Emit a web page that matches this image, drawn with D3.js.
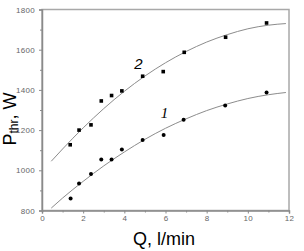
<!DOCTYPE html>
<meta charset='utf-8'>
<head>
<script src='https://d3js.org/d3.v7.min.js'></script>
<style>
  body{ margin: 0; background: #fff; }
  svg{ display: block; font-family: 'Liberation Sans', Arial, sans-serif; }
</style>
</head>
<body>
<svg id="chart"></svg>
<script>

  // measured points, curve 1 (circles) and curve 2 (squares)
  var q1 = [1.39, 1.8, 2.38, 2.88, 3.38, 3.88, 4.89, 5.91, 6.88, 8.9, 10.91];
  var p1 = [860, 934, 981, 1054, 1054, 1103, 1151, 1176, 1251, 1322, 1387];
  var q2 = [1.37, 1.8, 2.38, 2.88, 3.38, 3.88, 4.89, 5.89, 6.91, 8.92, 10.91];
  var p2 = [1127, 1200, 1226, 1345, 1372, 1395, 1468, 1491, 1587, 1662, 1733];

  // fit lines
  var fitQ = [0.45, 1, 2, 3, 4, 5, 6, 7, 8, 9, 10, 11, 11.85];
  var fit1 = [812, 862, 945, 1022, 1091, 1154, 1209, 1256, 1297, 1330, 1357, 1376, 1387];
  var fit2 = [1045, 1106, 1211, 1307, 1393, 1469, 1535, 1591, 1638, 1675, 1704, 1722, 1730];

  var xTicks = [0, 2, 4, 6, 8, 10, 12];
  var yTicks = [800, 1000, 1200, 1400, 1600, 1800];

  var width = 304, height = 251;
  var margin = {top: 9.5, right: 15, bottom: 40.5, left: 42};

  var svg = d3.select('#chart')
      .attr('width', width)
      .attr('height', height);

  var x = d3.scaleLinear().domain([0, 12]).range([margin.left, width - margin.right]);
  var y = d3.scaleLinear().domain([800, 1800]).range([height - margin.bottom, margin.top]);

  var axisCol = '#8a8a8a';

  // frame
  svg.append('rect')
    .attr('x', x(0)).attr('y', y(1800))
    .attr('width', x(12) - x(0)).attr('height', y(800) - y(1800))
    .attr('fill', 'none').attr('stroke', '#a8a8a8').attr('stroke-width', 1.5);

  // x axis
  svg.append('g')
    .attr('transform', 'translate(0,' + y(800) + ')')
    .call(d3.axisBottom(x).tickValues(xTicks).tickSize(3).tickPadding(2).tickFormat(d3.format('d')));
  svg.append('g')
    .attr('transform', 'translate(0,' + y(800) + ')')
    .call(d3.axisBottom(x).tickValues(d3.range(1, 12, 2)).tickSize(2).tickFormat(''))
    .call(function(g) { g.select('.domain').remove(); });

  // y axis
  svg.append('g')
    .attr('transform', 'translate(' + x(0) + ',0)')
    .call(d3.axisLeft(y).tickValues(yTicks).tickSize(3).tickPadding(4).tickFormat(d3.format('d')));
  svg.append('g')
    .attr('transform', 'translate(' + x(0) + ',0)')
    .call(d3.axisLeft(y).tickValues(d3.range(900, 1800, 200)).tickSize(2).tickFormat(''))
    .call(function(g) { g.select('.domain').remove(); });

  svg.selectAll('.domain').attr('stroke', axisCol).attr('stroke-width', 1.5);
  svg.selectAll('.tick line').attr('stroke', axisCol);
  svg.selectAll('.tick text')
    .attr('fill', '#666')
    .style('font-size', '8px')
    .style('letter-spacing', '0.3px');

  // fit lines
  var line = d3.line()
    .x(function(d) { return x(d[0]); })
    .y(function(d) { return y(d[1]); })
    .curve(d3.curveMonotoneX);

  [fit1, fit2].forEach(function(f) {
    svg.append('path')
      .datum(fitQ.map(function(q, i) { return [q, f[i]]; }))
      .attr('d', line)
      .attr('fill', 'none')
      .attr('stroke', '#8c8c8c')
      .attr('stroke-width', 1);
  });

  // points
  svg.selectAll('circle.p1')
    .data(q1.map(function(q, i) { return [q, p1[i]]; }))
    .enter().append('circle')
      .attr('class', 'p1')
      .attr('cx', function(d) { return x(d[0]); })
      .attr('cy', function(d) { return y(d[1]); })
      .attr('r', 2)
      .attr('fill', '#000');

  var s = 3.6;
  svg.selectAll('rect.p2')
    .data(q2.map(function(q, i) { return [q, p2[i]]; }))
    .enter().append('rect')
      .attr('class', 'p2')
      .attr('x', function(d) { return x(d[0]) - s / 2; })
      .attr('y', function(d) { return y(d[1]) - s / 2; })
      .attr('width', s).attr('height', s)
      .attr('fill', '#000');

  // curve numbers
  svg.append('text')
    .attr('x', 138.5).attr('y', 69)
    .attr('text-anchor', 'middle')
    .style('font-size', '15px').style('font-style', 'italic')
    .text('2');
  svg.append('text')
    .attr('x', 164.5).attr('y', 117.5)
    .attr('text-anchor', 'middle')
    .style('font-family', "'Liberation Serif', serif")
    .style('font-size', '15px').style('font-style', 'italic')
    .text('1');

  // axis titles
  svg.append('text')
    .attr('x', 164).attr('y', 245)
    .attr('text-anchor', 'middle')
    .style('font-size', '18px')
    .text('Q, l/min');

  var yt = svg.append('text')
    .attr('transform', 'translate(16,119) rotate(-90)')
    .attr('text-anchor', 'middle')
    .style('font-size', '18px');
  yt.append('tspan').text('P');
  yt.append('tspan').attr('dy', 2).style('font-size', '12px').text('thr');
  yt.append('tspan').attr('dy', -2).text(', W');

</script>
</body>
</html>
